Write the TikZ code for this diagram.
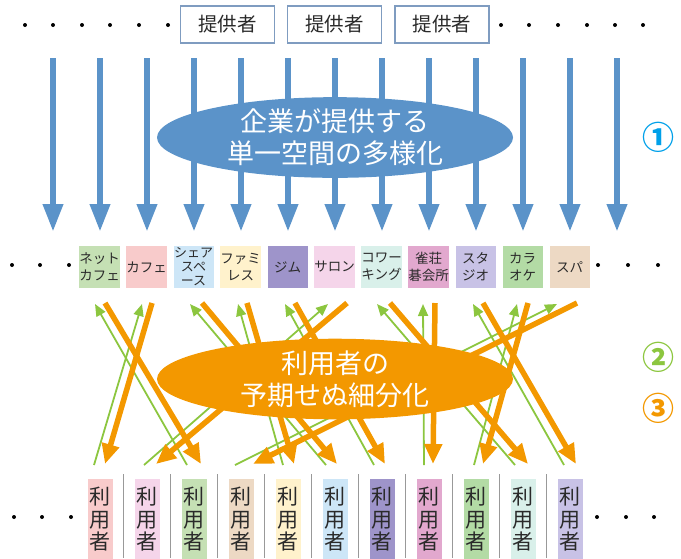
\documentclass[tikz,border=0pt]{standalone}
\usepackage{fontspec}
\setmainfont{Noto Sans CJK JP}
\usetikzlibrary{arrows.meta,shapes.geometric}
\definecolor{blu}{HTML}{5B93C9}
\definecolor{org}{HTML}{F39800}
\definecolor{grn}{HTML}{8CC63F}
\definecolor{cyn}{HTML}{00A0E9}
\definecolor{boxln}{HTML}{7F9CC0}
\definecolor{txt}{HTML}{2A2A2A}
\definecolor{cGreenL}{HTML}{C5E0B4}
\definecolor{cPink}{HTML}{F8CBCB}
\definecolor{cBlue}{HTML}{CDE6F7}
\definecolor{cYellow}{HTML}{FFF2CC}
\definecolor{cPurple}{HTML}{9E94CA}
\definecolor{cPinkL}{HTML}{F5D5EA}
\definecolor{cMint}{HTML}{D9F0EA}
\definecolor{cMagenta}{HTML}{E2A8CE}
\definecolor{cLav}{HTML}{C8C2E6}
\definecolor{cGreen2}{HTML}{B3DBA5}
\definecolor{cBeige}{HTML}{EDD9C4}
\begin{document}
\begin{tikzpicture}[x=1pt,y=-1pt,
  provbox/.style={draw=boxln,line width=1.2pt,fill=white,minimum width=94pt,minimum height=37pt,inner sep=0pt,font=\fontsize{19.5}{22}\selectfont,text=txt},
  placebox/.style={minimum width=40pt,minimum height=42pt,inner sep=0pt,align=center,text=txt,font=\fontsize{13.5}{17}\selectfont},
  userbox/.style={anchor=north,minimum width=25pt,minimum height=80pt,inner sep=0pt,align=center,text=txt,font=\fontsize{21}{22.5}\selectfont},
  bluearrow/.style={blu,line width=6.5pt,-{Triangle[length=28pt,width=19pt]}},
  orarrow/.style={org,line width=5.5pt,-{Triangle[length=20pt,width=17pt]}},
  grarrow/.style={grn,line width=1.8pt,-{Triangle[length=12pt,width=10pt]}},
  bigell/.style={ellipse,minimum width=356pt,minimum height=77pt,inner sep=0pt,text=white,align=center,font=\fontsize{27}{32}\selectfont},
  sepline/.style={draw=gray!80,line width=1.5pt},
  numlbl/.style={font=\fontsize{32}{34}\selectfont\bfseries},
  dotf/.style={fill=black}]
\useasboundingbox (0,0) rectangle (681,558);

% top dots
\foreach \x in {25,53,82,110,139,168,501,529,558,587,615,643}
  \fill[dotf] (\x,25) circle (2);
% providers
\node[provbox] (prov1) at (227.5,24.5) {提供者};
\node[provbox] (prov2) at (334.5,24.5) {提供者};
\node[provbox] (prov3) at (442,24.5) {提供者};

% middle dots
\foreach \x in {12,40,69,598,628,658}
  \fill[dotf] (\x,265) circle (2);

% places
\node[placebox,fill=cGreenL] (p1) at (99.5,267) {ネット\\カフェ};
\node[placebox,fill=cPink] (p2) at (146.5,267) {カフェ};
\node[placebox,fill=cBlue,font=\fontsize{13}{14}\selectfont] (p3) at (193.5,267) {シェア\\スペ\\ース};
\node[placebox,fill=cYellow] (p4) at (240.5,267) {ファミ\\レス};
\node[placebox,fill=cPurple] (p5) at (287.5,267) {ジム};
\node[placebox,fill=cPinkL] (p6) at (334.5,267) {サロン};
\node[placebox,fill=cMint] (p7) at (381.5,267) {コワー\\キング};
\node[placebox,fill=cMagenta] (p8) at (428.5,267) {雀荘\\碁会所};
\node[placebox,fill=cLav] (p9) at (475.5,267) {スタ\\ジオ};
\node[placebox,fill=cGreen2] (p10) at (522.5,267) {カラ\\オケ};
\node[placebox,fill=cBeige] (p11) at (569.5,267) {スパ};

% blue arrows
\foreach \i/\x in {1/53,2/100,3/147,4/194,5/241,6/288,7/335,8/382,9/429,10/476,11/523,12/570,13/617}{
  \coordinate (bt\i) at (\x,58);
  \coordinate (bb\i) at (\x,232);
  \draw[bluearrow] (bt\i) -- (bb\i);
}
\node[bigell,fill=blu] (e1) at (335,137.5) {企業が提供する\\単一空間の多様化};
\node[numlbl,text=cyn] (n1) at (658,137) {①};

% users
\foreach \x in {14,42,71,597,626,654}
  \fill[dotf] (\x,517) circle (2);
\foreach \x in {123.5,170.5,217.5,264.5,311.5,358.5,405.5,452.5,499.5,546.5}
  \draw[sepline] (\x,474) -- (\x,558);
\node[userbox,fill=cPink] (u1) at (100,479) {利\\用\\者};
\node[userbox,fill=cPinkL] (u2) at (147,479) {利\\用\\者};
\node[userbox,fill=cGreenL] (u3) at (194,479) {利\\用\\者};
\node[userbox,fill=cBeige] (u4) at (241,479) {利\\用\\者};
\node[userbox,fill=cYellow] (u5) at (288,479) {利\\用\\者};
\node[userbox,fill=cBlue] (u6) at (335,479) {利\\用\\者};
\node[userbox,fill=cPurple] (u7) at (382,479) {利\\用\\者};
\node[userbox,fill=cMagenta] (u8) at (429,479) {利\\用\\者};
\node[userbox,fill=cGreen2] (u9) at (476,479) {利\\用\\者};
\node[userbox,fill=cMint] (u10) at (523,479) {利\\用\\者};
\node[userbox,fill=cLav] (u11) at (570,479) {利\\用\\者};

% arrow end points near places (g: green head, o: orange tail)
\foreach \i/\g/\o in {1/95/105,2/142/152,3/190/202,4/238/247,5/285/295,6/328/347,7/377/390,8/423/435,9/473/483,10/517/528,11/557/577}{
  \coordinate (pg\i) at (\g,304);
  \coordinate (po\i) at (\o,303);
}
% arrow end points near users (g: green tail, o: orange tip)
\foreach \i/\g/\o in {1/94/105,2/144/156,3/187/201,4/235/253,5/283/294,6/326/337,7/374/385,8/424/433,9/474/483,10/515/528,11/564/576}{
  \coordinate (ug\i) at (\g,465);
  \coordinate (uo\i) at (\o,464);
}
% green: users -> places
\foreach \u/\p in {3/1,1/2,6/3,5/4,7/5,2/6,10/7,8/8,11/9,9/10,4/11}
  \draw[grarrow] (ug\u) -- (pg\p);
% orange: places -> users
\foreach \p/\u in {1/3,2/1,3/6,4/5,5/7,6/2,7/10,8/8,9/11,10/9,11/4}
  \draw[orarrow] (po\p) -- (uo\u);

\node[bigell,fill=org] (e2) at (335,379) {利用者の\\予期せぬ細分化};
\node[numlbl,text=grn] (n2) at (658,357) {②};
\node[numlbl,text=org] (n3) at (658,408) {③};
\end{tikzpicture}
\end{document}
